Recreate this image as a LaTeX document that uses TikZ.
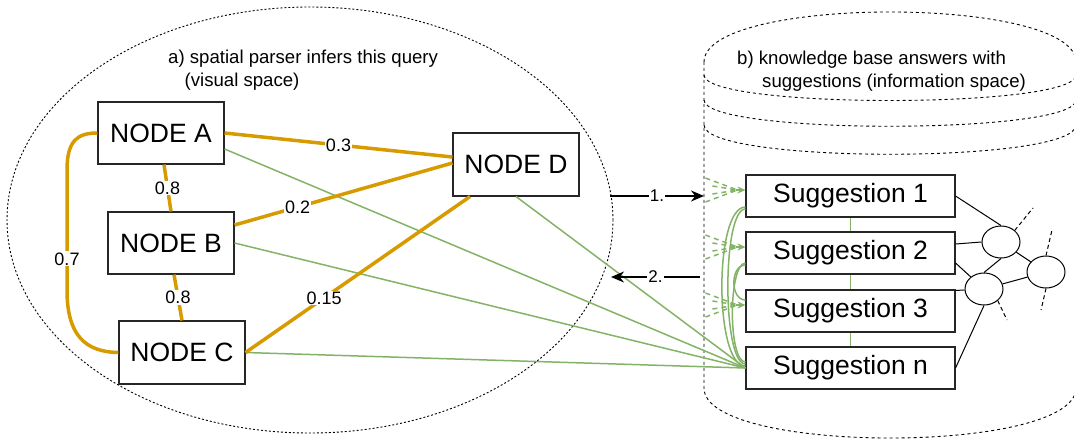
\documentclass[tikz,border=0pt]{standalone}
\usepackage{fontspec}
\setmainfont{Liberation Sans}
\usetikzlibrary{shapes.geometric,arrows.meta,calc}
\definecolor{gr}{HTML}{82B366}
\definecolor{orng}{HTML}{D79B00}
\begin{document}
\begin{tikzpicture}[x=1pt,y=-1pt,
  box/.style={draw=black!85, line width=1.1pt, fill=white, inner sep=0pt, font=\fontsize{26.5}{30}\selectfont},
  nbox/.style={box, minimum width=126pt, minimum height=62pt},
  sbox/.style={box, minimum width=209pt, minimum height=42pt},
  wt/.style={line width=3.5pt, draw=orng},
  wl/.style={fill=white, inner sep=1pt, font=\fontsize{18}{20}\selectfont},
  gl/.style={draw=gr, line width=1.5pt},
  fan/.style={draw=gr, line width=1.5pt, dash pattern=on 5pt off 4pt},
  bnd/.style={draw=black, line width=0.9pt, dash pattern=on 2pt off 2pt},
  cyl/.style={draw=black, line width=0.9pt, dash pattern=on 3pt off 3pt},
  arr/.style={draw=black, line width=1.7pt, -{Stealth[length=13pt,width=11pt]}},
  al/.style={fill=white, inner sep=1pt, font=\fontsize{17}{19}\selectfont},
  captxt/.style={align=left, inner sep=0pt, font=\fontsize{18.6}{23}\selectfont},
  circ/.style={draw=black, line width=1pt, ellipse, minimum width=38pt, minimum height=32pt, inner sep=0pt, fill=white},
  net/.style={draw=black, line width=1pt},
  netd/.style={draw=black, line width=1pt, dash pattern=on 4pt off 3pt}
]
\useasboundingbox (0,0) rectangle (1074,440);
% a) visual space
\node[bnd, ellipse, minimum width=606pt, minimum height=426pt, inner sep=0pt, outer sep=0pt] (vis) at (310,220) {};
% b) knowledge base (datastore)
\draw[cyl] (704,62) .. controls (704,-4.7) and (1076,-4.7) .. (1076,62) -- (1076,388) .. controls (1076,454.7) and (704,454.7) .. (704,388) -- cycle;
\draw[cyl] (704,75) .. controls (704,109) and (1076,109) .. (1076,75);
\draw[cyl] (704,100) .. controls (704,135) and (1076,135) .. (1076,100);
\draw[cyl] (704,125) .. controls (704,164) and (1076,164) .. (1076,125);
% captions
\node[captxt, anchor=north west] (capa) at (168,50) {a) spatial parser infers this query\\\hspace{16.5pt}(visual space)};
\node[captxt, anchor=north west] (capb) at (737,51) {b) knowledge base answers with\\\hspace{25pt}suggestions (information space)};
% query nodes
\node[nbox] (A) at (161,133) {NODE A};
\node[nbox] (B) at (171,243) {NODE B};
\node[nbox, minimum height=63pt] (C) at (182,352.5) {NODE C};
\node[nbox, minimum height=63pt] (D) at (516,164.5) {NODE D};
% suggestions
\node[sbox] (S1) at (850.5,196) {Suggestion 1};
\node[sbox] (S2) at (850.5,253) {Suggestion 2};
\node[sbox] (S3) at (850.5,311) {Suggestion 3};
\node[sbox] (Sn) at (850.5,368) {Suggestion n};
% green links from query nodes to suggestion n
\draw[gl] ([yshift=-16pt]A.east) -- (Sn.west);
\draw[gl] (B.east) -- (Sn.west);
\draw[gl] (C.east) -- (Sn.west);
\draw[gl] (D.south) -- (Sn.west);
% orange weighted edges
\draw[wt] (A.east) -- node[wl, pos=0.5] {0.3} ([yshift=7.5pt]D.west);
\draw[wt] ([yshift=18pt]B.east) -- node[wl, pos=0.29] {0.2} ([yshift=1.5pt]D.west);
\draw[wt] (C.east) -- node[wl, pos=0.35] {0.15} ([xshift=-46pt]D.south);
\draw[wt] ([xshift=3pt]A.south) -- node[wl] {0.8} (B.north);
\draw[wt] ([xshift=3pt]B.south) -- node[wl] {0.8} (C.north);
\draw[wt] (A.west) .. controls (78,133) and (67,140) .. (67,170) -- node[wl, pos=0.74] {0.7} (67,290) .. controls (67,335) and (85,352) .. (C.west);
% links between suggestions
\draw[gl] (S1.south) -- (S2.north);
\draw[gl] (S2.south) -- (S3.north);
\draw[gl] (S3.south) -- (Sn.north);
% curved green links on the left of the suggestions
\draw[gl] ([yshift=2pt]Sn.west) .. controls (714,366) and (714,207) .. ([yshift=-11pt]S1.west);
\draw[gl] ([yshift=4pt]Sn.west) .. controls (722,364) and (722,209) .. ([yshift=-13pt]S1.west);
\draw[gl] ([yshift=6pt]Sn.west) .. controls (728,362) and (728,264) .. ([yshift=-10pt]S2.west);
\draw[gl] ([yshift=-12pt]S2.west) .. controls (730,265) and (730,300) .. ([yshift=11pt]S3.west);
% dashed fans with arrowheads
\foreach \s in {S1,S2,S3} {
  \coordinate (t\s) at ([yshift=6pt]\s.west);
  \foreach \dx/\dy in {-40/-12, -33/-4, -33/4, -40/12}
    \draw[fan] ($(t\s)+(\dx,\dy)$) -- ($(t\s)+(-8,0)$);
  \draw[gl, -{Stealth[length=8pt,width=7pt]}] ($(t\s)+(-9,0)$) -- (t\s);
}
% query / answer arrows
\coordinate (q1) at (610,196);
\coordinate (c1) at (704,196);
\coordinate (c2) at (700,277);
\coordinate (q2) at (611,277);
\draw[arr] (q1) -- node[al] {1.} (c1);
\draw[arr] (c2) -- node[al] {2.} (q2);
% small network
\node[circ] (e1) at (1001,242) {};
\node[circ] (e2) at (984,289) {};
\node[circ] (e3) at (1046,272) {};
\draw[net] (S1.east) -- (e1.north);
\draw[net] ([yshift=9pt]S2.east) -- (e1.west);
\draw[net] ([yshift=-10pt]S2.east) -- (e2);
\draw[net] ([yshift=-1pt]S3.north east) -- (e2);
\draw[net] (Sn.east) -- (e2.south);
\draw[net] (e1.south) -- (e2.north);
\draw[net] (e1) -- (e3);
\draw[net] (e2) -- (e3);
\coordinate (d1) at (1033,208);
\coordinate (d2) at (1052,230);
\coordinate (d3) at (1041,310);
\coordinate (d4) at (1007,320);
\draw[netd] (e1.north east) -- (d1);
\draw[netd] (e3.north) -- (d2);
\draw[netd] (e3.south) -- (d3);
\draw[netd] (e2.south east) -- (d4);
\end{tikzpicture}
\end{document}
